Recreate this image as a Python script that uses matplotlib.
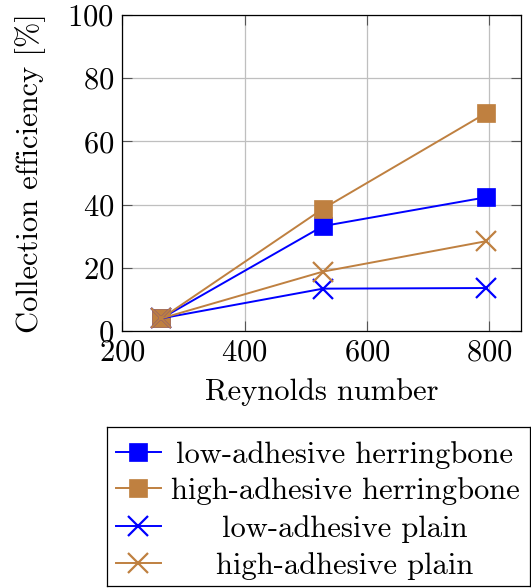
import matplotlib
matplotlib.use("Agg")
import matplotlib.pyplot as plt

plt.rcParams['font.family'] = 'serif'
plt.rcParams['font.serif'] = ['cmr10', 'DejaVu Serif']
plt.rcParams['mathtext.fontset'] = 'cm'
plt.rcParams['axes.formatter.use_mathtext'] = True
plt.rcParams['axes.unicode_minus'] = False

# Data
reynolds = [264, 528, 794]
low_herringbone = [4.0, 33.2, 42.3]
high_herringbone = [4.0, 38.7, 68.9]
low_plain = [4.0, 13.4, 13.6]
high_plain = [4.0, 18.8, 28.4]
series_labels = ["low-adhesive herringbone", "high-adhesive herringbone",
                 "low-adhesive plain", "high-adhesive plain"]
x_ticks = [200, 400, 600, 800]
y_ticks = [0, 20, 40, 60, 80, 100]

BLUE = "#0000ff"
BROWN = "#bf8040"
FS = 22

W, H = 531, 588
fig = plt.figure(figsize=(W / 100, H / 100), dpi=100)

ax = fig.add_axes([122.3 / W, 1 - 331 / H, (521.3 - 122.3) / W, (331 - 15) / H])

styles = [
    (low_herringbone, BLUE, 's'),
    (high_herringbone, BROWN, 's'),
    (low_plain, BLUE, 'x'),
    (high_plain, BROWN, 'x'),
]
for vals, col, mk in styles:
    ax.plot(reynolds, vals, color=col, lw=1.4, marker=mk, ms=12.5 if mk == 's' else 14,
            mew=1.6 if mk == 'x' else 0.5, mec=col, mfc=col, zorder=3, clip_on=False)

ax.set_xlim(200, 852)
ax.set_ylim(0, 100)
ax.set_xticks(x_ticks)
ax.set_yticks(y_ticks)
ax.grid(True, color="#bfbfbf", lw=0.9)
ax.set_axisbelow(True)
ax.tick_params(direction='in', length=7, width=0.8, color="#555555",
               top=True, right=True, labelsize=FS, pad=6)
for s in ax.spines.values():
    s.set_linewidth(0.9)
ax.set_xlabel("Reynolds number", fontsize=FS, labelpad=8)
ax.set_ylabel("Collection efficiency [%]", fontsize=FS, labelpad=15)

# Legend panel below the plot, with centred entry text
lax = fig.add_axes([106.7 / W, 1 - 585.7 / H, (530 - 106.7) / W, (585.7 - 427) / H])
lax.set_xlim(106.7, 530)
lax.set_ylim(585.7, 427)
lax.set_xticks([])
lax.set_yticks([])
for s in lax.spines.values():
    s.set_linewidth(0.9)
rows = [452.3, 488.3, 526, 563.3]
for (vals, col, mk), lab, yy in zip(styles, series_labels, rows):
    lax.plot([115.7, 161], [yy, yy], color=col, lw=1.4)
    lax.plot([138.3], [yy], color=col, marker=mk, ms=12.5 if mk == 's' else 14,
             mew=1.6 if mk == 'x' else 0.5, mec=col, mfc=col)
    lax.text(345, yy, lab, fontsize=FS, ha='center', va='center_baseline')

fig.savefig("out.png", dpi=100)
